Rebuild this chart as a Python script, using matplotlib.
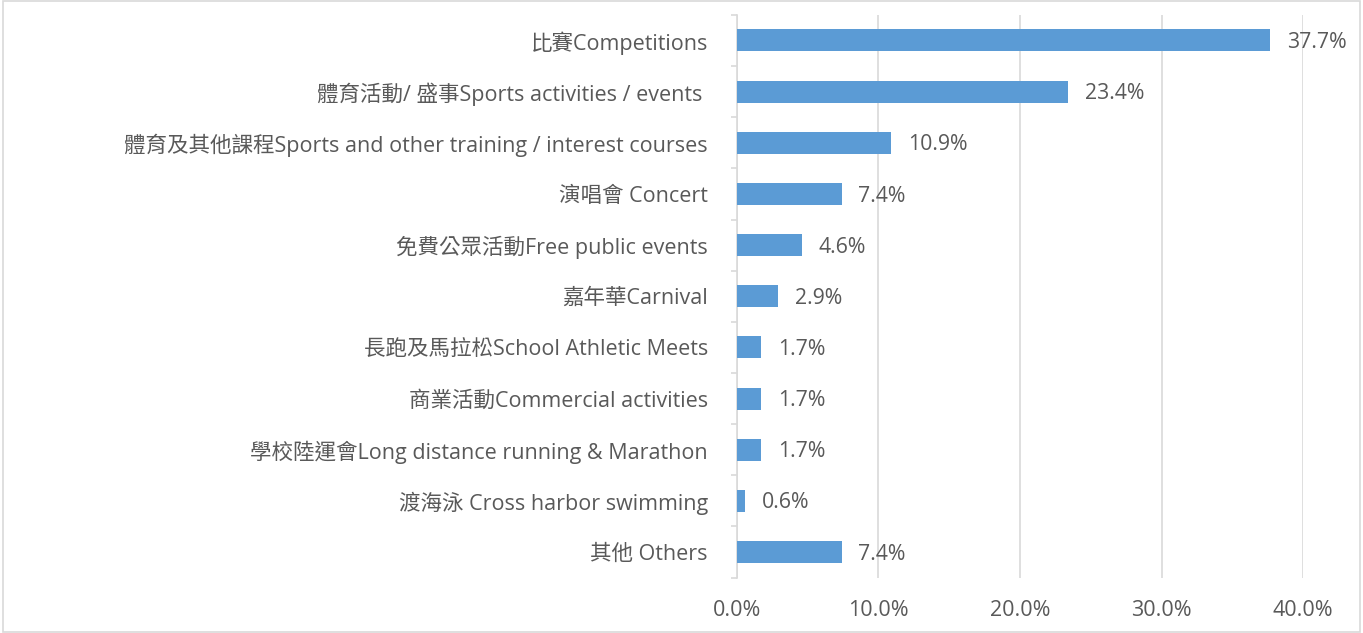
import matplotlib.pyplot as plt
from matplotlib.patches import Rectangle
from matplotlib.ticker import FuncFormatter, FixedLocator

plt.rcParams['font.family'] = ['Open Sans', 'Noto Sans CJK TC', 'DejaVu Sans']

# Categories and percentages
labels = ['比賽Competitions',
          '體育活動/ 盛事Sports activities / events ',
          '體育及其他課程Sports and other training / interest courses',
          '演唱會 Concert',
          '免費公眾活動Free public events',
          '嘉年華Carnival',
          '長跑及馬拉松School Athletic Meets',
          '商業活動Commercial activities',
          '學校陸運會Long distance running & Marathon',
          '渡海泳 Cross harbor swimming',
          '其他 Others']
values = [37.7, 23.4, 10.9, 7.4, 4.6, 2.9, 1.7, 1.7, 1.7, 0.6, 7.4]
xticks = [0, 10, 20, 30, 40]

bar_color = '#5B9BD5'
text_color = '#595959'
grid_color = '#D9D9D9'

fig = plt.figure(figsize=(13.63, 6.33), dpi=100)
ax = fig.add_axes([0.5407, 0.0875, 0.4153, 0.889])

pos = list(range(len(values)))
ax.barh(pos, values, height=0.43, color=bar_color, zorder=3)

for p, v in zip(pos, values):
    ax.annotate(f'{v:.1f}%', (v, p), xytext=(12, -1.5), textcoords='offset points',
                va='center', ha='left', fontsize=15.3, color=text_color)

ax.set_xlim(0, 40)
ax.set_ylim(len(values) - 0.5, -0.5)
ax.set_xticks(xticks)
ax.xaxis.set_major_formatter(FuncFormatter(lambda x, _: f'{x:.1f}%'))
ax.set_yticks(pos)
ax.set_yticklabels(labels)
ax.yaxis.set_minor_locator(FixedLocator([i - 0.5 for i in range(len(values) + 1)]))

ax.tick_params(axis='x', length=0, pad=16, labelsize=15.5, colors=text_color)
ax.tick_params(axis='y', which='major', length=0, pad=21, labelsize=15.5, colors=text_color)
ax.tick_params(axis='y', which='minor', length=4, color=grid_color, width=1.2)

ax.grid(axis='x', color=grid_color, linewidth=1.2, zorder=0)
for s in ['top', 'right', 'bottom']:
    ax.spines[s].set_visible(False)
ax.spines['left'].set_color(grid_color)
ax.spines['left'].set_linewidth(1.2)

# outer chart border
fig.patches.append(Rectangle((0.002, 0.002), 0.996, 0.996, transform=fig.transFigure,
                             fill=False, edgecolor=grid_color, linewidth=1.2))

fig.savefig('out.png', dpi=100)
